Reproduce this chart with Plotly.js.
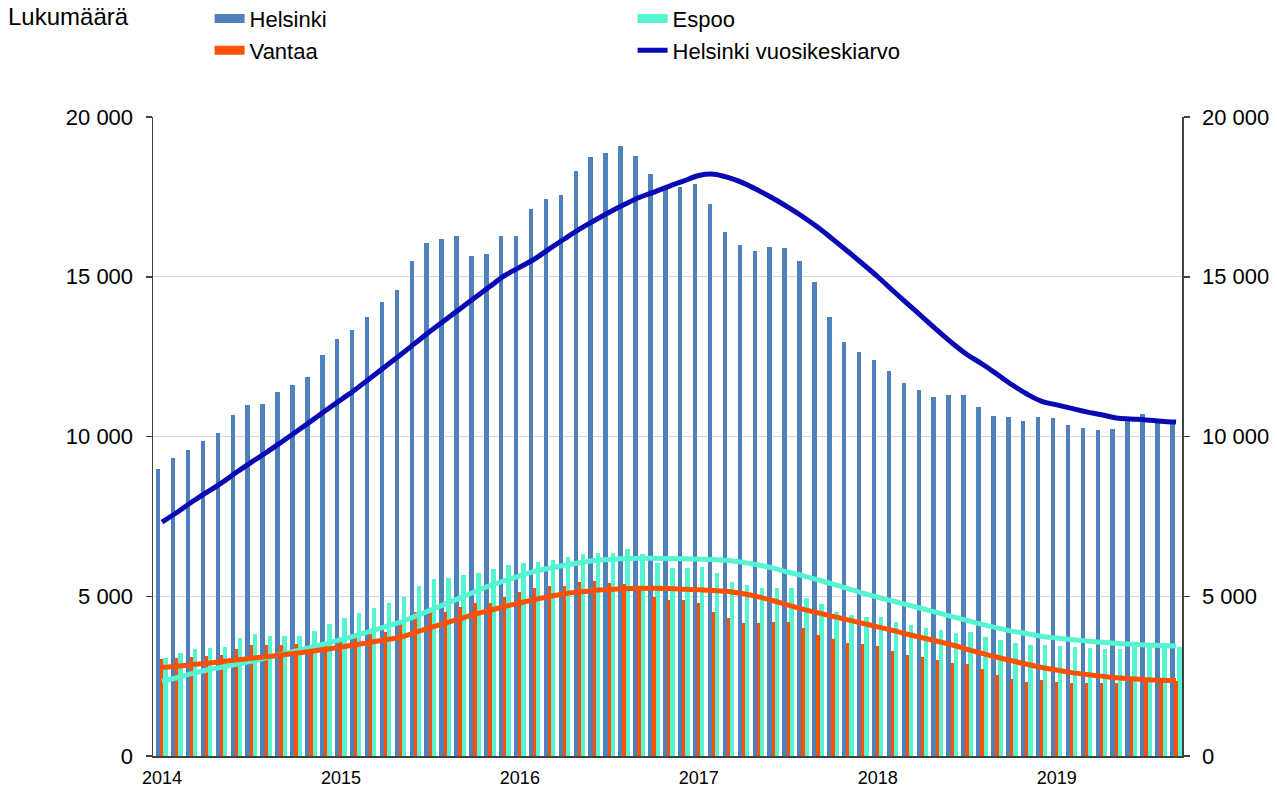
<!DOCTYPE html>
<html><head><meta charset="utf-8">
<script src="https://cdn.plot.ly/plotly-3.0.1.min.js"></script>
<style>html,body{margin:0;padding:0;background:#fff}#chart{width:1277px;height:789px}</style>
</head><body><div id="chart"></div>
<script>
// Categories: months Jan 2014 - Sep 2019
const years = ['2014','2015','2016','2017','2018','2019'];
const months = [];
for (const yr of years) for (let m = 1; m <= 12; m++) months.push(yr + '-' + String(m).padStart(2, '0'));
months.length = 69;
const yearTicks = ['2014-01','2015-01','2016-01','2017-01','2018-01','2019-01'];

const helsinki = [8980,9330,9580,9860,10110,10670,10990,11020,11390,11610,11860,12550,
  13050,13330,13740,14210,14590,15490,16060,16180,16280,15650,15710,16280,
  16280,17120,17430,17560,18310,18750,18870,19090,18780,18220,17840,17810,
  17900,17280,16400,15990,15810,15930,15900,15490,14840,13740,12960,12650,
  12390,12050,11670,11460,11240,11300,11300,10920,10640,10610,10480,10610,
  10580,10360,10270,10200,10230,10480,10700,10520,10420];
const espoo = [3060,3210,3340,3370,3420,3680,3820,3760,3760,3760,3920,4130,
  4310,4490,4640,4780,4990,5320,5530,5560,5670,5740,5840,5980,
  6050,6080,6140,6240,6310,6360,6360,6470,6310,6030,5870,5900,
  5930,5720,5460,5350,5250,5250,5250,4950,4760,4500,4410,4350,
  4350,4190,4100,4000,3950,3840,3890,3730,3630,3550,3470,3470,
  3440,3420,3370,3340,3340,3420,3420,3420,3420];
const vantaa = [3040,3070,3090,3130,3160,3340,3470,3470,3470,3500,3400,3530,
  3650,3740,3820,3870,4200,4520,4620,4520,4650,4780,4800,4990,
  5140,5250,5320,5320,5460,5480,5430,5380,5250,4990,4880,4880,
  4780,4520,4310,4170,4170,4200,4200,4000,3800,3650,3550,3500,
  3450,3300,3150,3100,3000,2900,2880,2710,2540,2400,2330,2380,
  2330,2280,2280,2280,2300,2350,2350,2350,2350];
const helsinkiAvg = [7320,7620,7950,8250,8550,8880,9200,9500,9820,10150,10480,10820,
  11150,11480,11840,12200,12560,12930,13300,13650,14000,14350,14700,15040,
  15300,15560,15880,16190,16490,16760,17020,17260,17480,17650,17830,18000,
  18170,18210,18100,17930,17700,17450,17170,16870,16540,16170,15790,15400,
  15000,14570,14150,13740,13320,12920,12560,12270,11950,11620,11330,11100,
  10990,10880,10770,10680,10580,10550,10520,10480,10450];
const espooAvg = [2340,2450,2580,2690,2780,2870,2960,3070,3180,3290,3400,3520,
  3640,3770,3910,4050,4190,4380,4560,4760,4950,5150,5330,5490,
  5640,5780,5880,5970,6050,6120,6150,6180,6190,6190,6180,6170,
  6160,6150,6120,6060,5980,5880,5750,5640,5510,5380,5240,5100,
  4970,4850,4730,4610,4490,4360,4240,4120,4010,3910,3830,3740,
  3690,3640,3600,3560,3530,3500,3475,3460,3443];
const vantaaAvg = [2770,2810,2860,2900,2950,3010,3060,3110,3160,3220,3280,3340,
  3410,3480,3560,3640,3720,3870,4020,4160,4300,4440,4560,4680,
  4790,4900,4990,5080,5130,5180,5210,5240,5250,5250,5240,5220,
  5200,5180,5150,5080,4980,4860,4720,4590,4480,4370,4260,4150,
  4040,3930,3810,3700,3590,3474,3340,3210,3090,2980,2870,2770,
  2690,2610,2550,2500,2450,2420,2390,2370,2360];
const yTicks = [0,5000,10000,15000,20000];

const C_HKI = '#4f81bd', C_ESP = '#55f5d2', C_VAN = '#ff5000', C_AVG = '#0a0ab4';
const FONT = 'Liberation Sans, Arial, sans-serif';

const traces = [
  {type:'bar', name:'Helsinki', x:months, y:helsinki, width:0.3, offset:-0.4,
   marker:{color:C_HKI}, showlegend:false, legendgroup:'hki', yaxis:'y'},
  {type:'scatter', mode:'lines', name:'Helsinki vuosikeskiarvo', x:months, y:helsinkiAvg,
   line:{color:C_AVG, width:5, shape:'spline'}, legend:'legend2', legendrank:2, yaxis:'y'},
  {type:'bar', name:'Espoo', x:months, y:espoo, width:0.3, offset:0.08,
   marker:{color:C_ESP}, showlegend:false, legendgroup:'esp', yaxis:'y2'},
  {type:'bar', name:'Vantaa', x:months, y:vantaa, width:0.22, offset:-0.12,
   marker:{color:C_VAN}, showlegend:false, legendgroup:'van', yaxis:'y2'},
  {type:'scatter', mode:'lines', name:'Espoo vuosikeskiarvo', x:months, y:espooAvg,
   line:{color:C_ESP, width:5, shape:'spline'}, showlegend:false, yaxis:'y2'},
  {type:'scatter', mode:'lines', name:'Vantaa vuosikeskiarvo', x:months, y:vantaaAvg,
   line:{color:C_VAN, width:5, shape:'spline'}, showlegend:false, yaxis:'y2'},
  // legend swatches (wide rectangles like the original)
  {type:'scatter', mode:'lines', name:'Helsinki', x:[months[0]], y:[null],
   line:{color:C_HKI, width:9}, legend:'legend', legendrank:1, legendgroup:'hki', yaxis:'y'},
  {type:'scatter', mode:'lines', name:'Espoo', x:[months[0]], y:[null],
   line:{color:C_ESP, width:9}, legend:'legend', legendrank:2, legendgroup:'esp', yaxis:'y'},
  {type:'scatter', mode:'lines', name:'Vantaa', x:[months[0]], y:[null],
   line:{color:C_VAN, width:9}, legend:'legend2', legendrank:1, legendgroup:'van', yaxis:'y'}
];

const yaxisCommon = {
  range:[0,20000], tickvals:yTicks, tickformat:',d',
  ticks:'outside', ticklen:6, tickcolor:'#404040', tickwidth:1.5,
  showline:true, linecolor:'#404040', linewidth:1.5,
  tickfont:{family:FONT, size:22, color:'#000'}, zeroline:false,
  ticklabelstandoff:8
};

const layout = {
  width:1277, height:789, autosize:false,
  margin:{l:153, r:95, t:117, b:33, pad:0, autoexpand:false},
  paper_bgcolor:'#fff', plot_bgcolor:'#fff',
  separators:', ',
  barmode:'overlay', bargap:0,
  font:{family:FONT, color:'#000'},
  xaxis:{type:'category', range:[-0.6,68.4], tickmode:'array', tickvals:yearTicks, ticktext:years,
    showgrid:false, showline:true, linecolor:'#404040', linewidth:1.5,
    ticks:'outside', ticklen:5, tickcolor:'rgba(0,0,0,0)',
    tickfont:{family:FONT, size:18, color:'#000'}},
  yaxis:Object.assign({}, yaxisCommon, {showgrid:true, gridcolor:'#d9d9d9', gridwidth:1}),
  yaxis2:Object.assign({}, yaxisCommon, {overlaying:'y', side:'right', showgrid:false}),
  legend:{orientation:'h', x:0.055, xanchor:'left', y:1.154, yanchor:'middle',
    entrywidth:378, entrywidthmode:'pixels', bgcolor:'rgba(0,0,0,0)',
    font:{family:FONT, size:22, color:'#000'}, traceorder:'normal', itemclick:false},
  legend2:{orientation:'h', x:0.055, xanchor:'left', y:1.104, yanchor:'middle',
    entrywidth:378, entrywidthmode:'pixels', bgcolor:'rgba(0,0,0,0)',
    font:{family:FONT, size:22, color:'#000'}, traceorder:'normal', itemclick:false},
  annotations:[{text:'Lukumäärä', xref:'paper', yref:'paper', x:-0.143, y:1.157,
    xanchor:'left', yanchor:'middle', showarrow:false,
    font:{family:FONT, size:24, color:'#000'}}]
};

Plotly.newPlot('chart', traces, layout, {displayModeBar:false, staticPlot:true});
</script>
</body></html>
